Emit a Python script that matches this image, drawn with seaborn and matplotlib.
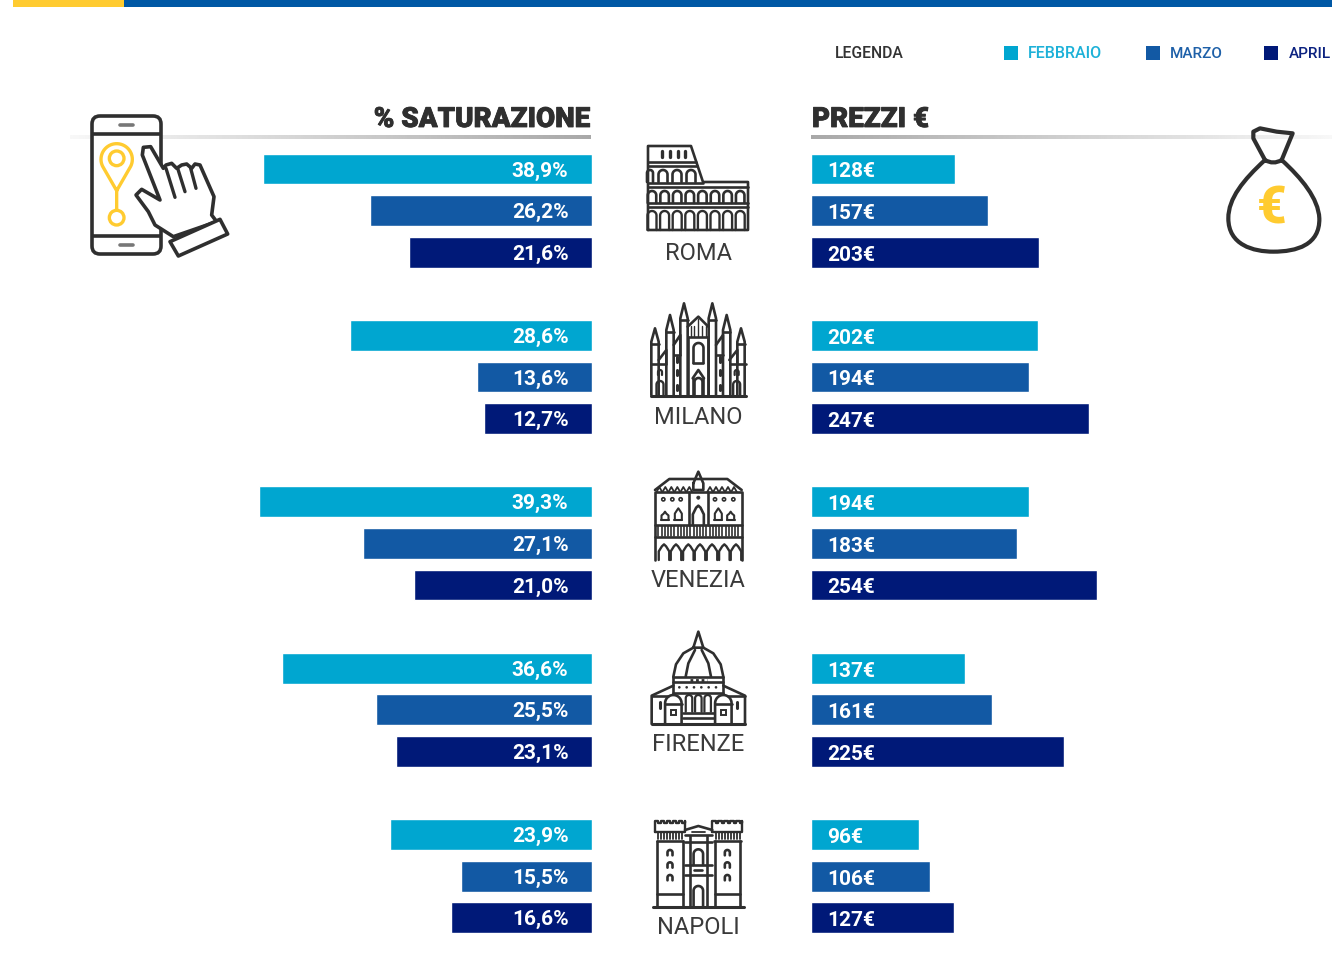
import numpy as np
import pandas as pd
import seaborn as sns
import matplotlib
matplotlib.use("Agg")
import matplotlib.pyplot as plt
import matplotlib.patheffects as pe
from matplotlib.patches import Rectangle, Circle, Polygon, FancyBboxPatch, PathPatch
from matplotlib.path import Path

cities = ["ROMA", "MILANO", "VENEZIA", "FIRENZE", "NAPOLI"]
months = ["FEBBRAIO", "MARZO", "APRIL"]
sat_feb = [38.9, 28.6, 39.3, 36.6, 23.9]
sat_mar = [26.2, 13.6, 27.1, 25.5, 15.5]
sat_apr = [21.6, 12.7, 21.0, 23.1, 16.6]
price_feb = [128, 202, 194, 137, 96]
price_mar = [157, 194, 183, 161, 106]
price_apr = [203, 247, 254, 225, 127]
month_colors = ["#00A6D0", "#1259A4", "#001978"]

sns.set_theme(style="white")
plt.rcParams["font.family"] = ["Roboto", "DejaVu Sans"]

W, H = 1332, 977
DARK = "#2F2F2F"
YEL = "#FFCB30"

rows = []
for g, c in enumerate(cities):
    for m, (s, p) in enumerate(zip((sat_feb, sat_mar, sat_apr), (price_feb, price_mar, price_apr))):
        rows.append({"city": c, "mese": months[m], "row": g * 4 + m, "sat": s[g], "price": p[g]})
df = pd.DataFrame(rows)

fig = plt.figure(figsize=(W / 100, H / 100), dpi=100, facecolor="white")

# overlay in pixel coordinates for furniture and pictograms
ov = fig.add_axes([0, 0, 1, 1], zorder=1)
ov.set_xlim(0, W)
ov.set_ylim(H, 0)
ov.axis("off")

ROW0, ROWH = 169.0, 41.6
ylim = ((H - ROW0) / ROWH, -ROW0 / ROWH)
palette = dict(zip(months, month_colors))


def panel(left_px, right_px):
    a = fig.add_axes([left_px / W, 0, (right_px - left_px) / W, 1], zorder=2)
    a.patch.set_alpha(0)
    return a


axL = panel(100, 591.5)
sns.barplot(data=df, x="sat", y="row", hue="mese", orient="y", native_scale=True, dodge=False,
            width=0.745, palette=palette, saturation=1, legend=False, ax=axL)
axL.set_xlim(491.5 / 8.45, 0)
axL.set_ylim(*ylim)
axL.axis("off")

axR = panel(810.6, 1332)
sns.barplot(data=df, x="price", y="row", hue="mese", orient="y", native_scale=True, dodge=False,
            width=0.745, palette=palette, saturation=1, legend=False, ax=axR)
axR.set_xlim(0, 521.4 / 1.127)
axR.set_ylim(*ylim)
axR.axis("off")

lab = dict(color="white", fontsize=15, fontweight="bold", va="center_baseline",
           textcoords="offset pixels", zorder=5)
for _, r in df.iterrows():
    axL.annotate(f"{r['sat']:.1f}%".replace(".", ","), xy=(0, r["row"]), xytext=(-23, 0), ha="right", **lab)
    axR.annotate(f"{r['price']}€", xy=(0, r["row"] + 0.02), xytext=(17, 0), ha="left", **lab)

# top band
ov.add_patch(Rectangle((13, 0), 111, 6.5, color=YEL, lw=0))
ov.add_patch(Rectangle((124, 0), W - 124, 6.5, color="#0058A5", lw=0))

# legend
ov.text(835, 54, "LEGENDA", color="#333333", fontsize=11.3, fontweight="medium", va="center")
for (sx, tx, col, tcol, name) in [(1004, 1028, month_colors[0], "#1DB1D8", months[0]),
                                  (1146, 1170, month_colors[1], "#1E60A8", months[1]),
                                  (1264, 1288.5, month_colors[2], "#0C2280", months[2])]:
    ov.add_patch(Rectangle((sx, 45.5), 14, 14, color=col, lw=0))
    ov.text(tx, 53.5, name, color=tcol, fontsize=11.5 if name == months[0] else 11, fontweight="medium", va="center")

# heading rules
gl = np.linspace(0.97, 0.66, 256)[None, :]
ov.imshow(gl, extent=(70, 591, 139, 135), cmap="gray", vmin=0, vmax=1, aspect="auto", zorder=0.5)
ov.imshow(gl[:, ::-1], extent=(811, 1332, 139, 135), cmap="gray", vmin=0, vmax=1, aspect="auto", zorder=0.5)
ov.set_xlim(0, W)
ov.set_ylim(H, 0)

hd = dict(color=DARK, fontsize=20, fontweight="black", va="center",
          path_effects=[pe.withStroke(linewidth=0.6, foreground=DARK)])
ov.text(590, 119.5, "% SATURAZIONE", ha="right", **hd)
ov.text(812, 119.5, "PREZZI €", ha="left", **hd)

LW = 1.9
K = dict(color=DARK, lw=LW, solid_capstyle="round", solid_joinstyle="round", zorder=3)


def line(pts, **kw):
    xs, ys = zip(*pts)
    ov.plot(xs, ys, **{**K, **kw})


def z(ox, oy, pts):
    return [(ox + a / 3, oy + b / 3) for a, b in pts]


def arch(cx, top, base, w, **kw):
    t = np.linspace(np.pi, 0, 20)
    r = w / 2
    xs = [cx - r] + list(cx + r * np.cos(t)) + [cx + r]
    ys = [base] + list(top + r - r * np.sin(t)) + [base]
    ov.plot(xs, ys, **{**K, **kw})


def pointed(cx, top, base, w, **kw):
    ys = top + (base - top) * 0.45
    line([(cx - w / 2, base), (cx - w / 2, ys), (cx - w * 0.2, top + 2), (cx, top),
          (cx + w * 0.2, top + 2), (cx + w / 2, ys), (cx + w / 2, base)], **kw)


# ---- Colosseo
line([(648, 230), (648, 146), (691, 146), (703, 182), (748, 182), (748, 230), (648, 230)])
line([(648, 162), (696, 162)]); line([(648, 166), (697, 166)])
line([(648, 183), (703, 183)]); line([(648, 187), (748, 187)])
line([(648, 203), (748, 203)]); line([(648, 207), (748, 207)])
for x in (662, 670, 678, 685):
    line([(x, 151), (x, 157)], lw=2.4)
for x in (663, 677, 691):
    arch(x, 170, 182, 9)
arch(650, 170, 182, 6)
for x in np.arange(652, 746, 12.6):
    arch(x, 191, 203, 8.5)
    arch(x, 211, 230, 9, lw=1.7)

# ---- Duomo di Milano
ox, oy = 640, 295
for cx, top, sh, base in [(45, 100, 140, 300), (90, 60, 105, 300), (132, 25, 70, 300),
                          (217, 25, 70, 300), (260, 60, 105, 300), (303, 100, 140, 300)]:
    hw = 11
    line(z(ox, oy, [(cx - hw, base), (cx - hw, sh), (cx, top), (cx + hw, sh), (cx + hw, base)]))
    line(z(ox, oy, [(cx - hw, sh + 6), (cx + hw, sh + 6)]))
line(z(ox, oy, [(33, 303), (317, 303)]), lw=2.2)
line(z(ox, oy, [(143, 95), (175, 65), (205, 95)]))
line(z(ox, oy, [(143, 125), (205, 125)]))
for x in (152, 163, 175, 187, 198):
    line(z(ox, oy, [(x, 122), (x, 92 if x != 175 else 72)]), lw=1)
line(z(ox, oy, [(143, 125), (143, 300)])); line(z(ox, oy, [(205, 125), (205, 300)]))
for a, b in [(56, 79), (268, 292)]:
    line(z(ox, oy, [(a, 195), (b, 165), (b, 205)]))
    line(z(ox, oy, [(33, 208), (79, 208)] if a == 56 else [(271, 208), (317, 208)]))
for a, b in [(101, 121), (228, 249)]:
    line(z(ox, oy, [(a, 150), (b, 120), (b, 180)]))
    line(z(ox, oy, [(a, 180), (b, 180)]))
arch(698.5, 343, 363, 10)
line(z(ox, oy, [(160, 205), (190, 205)]))
line(z(ox, oy, [(158, 250), (175, 225), (192, 250)]))
arch(698.5, 378, 395, 8)
line(z(ox, oy, [(160, 250), (160, 300)])); line(z(ox, oy, [(190, 250), (190, 300)]))
for x in (110, 240):
    for y1, y2 in [(185, 200), (225, 240), (270, 285)]:
        line(z(ox, oy, [(x, y1), (x, y2)]), lw=2.2)
for x in (60, 290):
    arch(ox + x / 3, oy + 225 / 3, oy + 240 / 3, 4, lw=1.6)
    arch(ox + x / 3, oy + 258 / 3, oy + 300 / 3, 7, lw=1.7)

# ---- Palazzo Ducale (Venezia)
ox, oy = 640, 465
line(z(ox, oy, [(45, 285), (45, 82), (305, 82), (305, 285)]))
line(z(ox, oy, [(45, 75), (88, 42), (262, 42), (305, 75)]))
line(z(ox, oy, [(160, 55), (175, 20), (190, 55), (190, 75), (160, 75), (160, 55)]))
for x in list(range(58, 150, 18)) + list(range(210, 300, 18)):
    line(z(ox, oy, [(x - 8, 80), (x, 66), (x + 8, 80)]), lw=1.3)
line(z(ox, oy, [(148, 180), (148, 82)])); line(z(ox, oy, [(205, 180), (205, 82)]))
line(z(ox, oy, [(45, 180), (305, 180)])); line(z(ox, oy, [(45, 215), (305, 215)]))
for x in np.arange(55, 300, 9.6):
    line(z(ox, oy, [(x, 184), (x, 212)]), lw=1.2)
for x in (70, 97, 122, 225, 252, 280):
    ov.add_patch(Circle((ox + x / 3, oy + 103 / 3), 1.6, fc="white", ec=DARK, lw=1.2, zorder=3))
ov.add_patch(Circle((ox + 175 / 3, oy + 98 / 3), 1.6, fc=DARK, ec=DARK, lw=0.5, zorder=3))
for x, t in [(75, 140), (115, 130), (235, 130), (272, 140)]:
    pointed(ox + x / 3, oy + t / 3, oy + 165 / 3, 7, lw=1.5)
    line(z(ox, oy, [(x - 12, 165), (x + 12, 165)]), lw=1.5)
pointed(ox + 175 / 3, oy + 122 / 3, oy + 180 / 3, 11)
for x in (72, 108, 145, 180, 216, 253, 288):
    pointed(ox + x / 3, oy + 238 / 3, oy + 285 / 3, 10.5, lw=1.7)

# ---- Duomo di Firenze
ox, oy = 640, 625
line(z(ox, oy, [(160, 68), (175, 20), (190, 68), (160, 68)]))
line(z(ox, oy, [(100, 155), (108, 118), (130, 85), (160, 68)]))
line(z(ox, oy, [(250, 155), (242, 118), (220, 85), (190, 68)]))
line(z(ox, oy, [(137, 155), (145, 115), (165, 75)]))
line(z(ox, oy, [(213, 155), (205, 115), (185, 75)]))
line(z(ox, oy, [(100, 155), (250, 155)])); line(z(ox, oy, [(100, 172), (250, 172)]))
line(z(ox, oy, [(100, 205), (250, 205)]))
line(z(ox, oy, [(100, 155), (100, 205)])); line(z(ox, oy, [(250, 155), (250, 205)]))
line(z(ox, oy, [(150, 165), (200, 165)]), lw=2, ls=(0, (1, 1)))
for x in (118, 140, 162, 184, 206, 228):
    ov.add_patch(Circle((ox + x / 3, oy + 187 / 3), 1.3, fc=DARK, lw=0, zorder=3))
line(z(ox, oy, [(35, 297), (35, 212), (100, 182)])); line(z(ox, oy, [(315, 297), (315, 212), (250, 182)]))
line(z(ox, oy, [(35, 297), (315, 297)]), lw=2.2)
line(z(ox, oy, [(35, 212), (85, 212)])); line(z(ox, oy, [(265, 212), (315, 212)]))
for x in (100, 250):
    arch(ox + x / 3, oy + 210 / 3, oy + 297 / 3, 16.5)
    line(z(ox, oy, [(x - 25, 237), (x + 25, 237)]))
    ov.add_patch(Rectangle((ox + x / 3 - 2.5, oy + 255 / 3), 5, 5, fc="white", ec=DARK, lw=1.4, zorder=3))
for x in (147, 175, 203):
    arch(ox + x / 3, oy + 210 / 3, oy + 260 / 3, 6.5, lw=1.6)
line(z(ox, oy, [(128, 265), (222, 265)])); line(z(ox, oy, [(128, 278), (222, 278)]))
for x in (60, 290):
    line(z(ox, oy, [(x, 232), (x, 250)]), lw=2.2)

# ---- Castel Nuovo (Napoli)
ox, oy = 640, 810
for a, b in [(45, 135), (217, 307)]:
    step = (b - a) / 5
    pts = [(a, 65), (a, 32)]
    for i in range(5):
        xa = a + i * step
        pts += [(xa, 32), (xa + step * 0.55, 32), (xa + step * 0.55, 40), (xa + step, 40)]
    pts += [(b, 32), (b, 65), (a, 65)]
    line(z(ox, oy, pts), lw=1.7)
    for x in np.arange(a + 10, b - 5, 9):
        line(z(ox, oy, [(x, 70), (x, 88)]), lw=1.3)
    line(z(ox, oy, [(a + 5, 92), (b - 5, 92)]))
    line(z(ox, oy, [(a + 7, 92), (a + 7, 292)])); line(z(ox, oy, [(b - 7, 92), (b - 7, 292)]))
    line(z(ox, oy, [(a + 7, 252), (b - 7, 252)]))
    cx = (a + b) / 2
    for y in (128, 165, 203):
        arch(ox + cx / 3, oy + (y - 8) / 3, oy + (y + 8) / 3, 5, lw=1.9)
line(z(ox, oy, [(38, 292), (312, 292)]), lw=2.2)
line(z(ox, oy, [(135, 60), (175, 48), (217, 60)])); line(z(ox, oy, [(135, 75), (217, 75)]))
line(z(ox, oy, [(155, 65), (195, 65)]), lw=1.3)
line(z(ox, oy, [(135, 95), (217, 95)])); line(z(ox, oy, [(135, 195), (217, 195)]))
for x in (150, 200):
    line(z(ox, oy, [(x, 78), (x, 292)]))
arch(ox + 175 / 3, oy + 118 / 3, oy + 165 / 3, 9.5)
line(z(ox, oy, [(135, 165), (217, 165)]))
line(z(ox, oy, [(163, 180), (187, 180)]))
arch(ox + 175 / 3, oy + 228 / 3, oy + 290 / 3, 9.5)

# ---- Phone + pin + hand
ox, oy = 60, 100
ov.add_patch(FancyBboxPatch((92, 116), 69, 138, boxstyle="round,pad=0,rounding_size=8", fc="white", ec=DARK, lw=2.6, zorder=2.5))
line(z(ox, oy, [(100, 102), (300, 102)]), lw=2.6); line(z(ox, oy, [(100, 408), (300, 408)]), lw=2.6)
line(z(ox, oy, [(180, 76), (218, 76)]), lw=2.6, color="#777777")
line(z(ox, oy, [(180, 435), (218, 435)]), lw=2.6, color="#777777")
t = np.linspace(-0.18 * np.pi, 1.18 * np.pi, 40)
head = [(170 + 47 * np.cos(a), 178 - 47 * np.sin(a)) for a in t]
line(z(ox, oy, [(170, 272)] + head + [(170, 272), (170, 332)]), color=YEL, lw=2.4)
for cy, r in [(175, 22), (353, 22)]:
    ov.add_patch(Circle((ox + 170 / 3, oy + cy / 3), r / 3, fc="white", ec=YEL, lw=2.4, zorder=3))
hand = [(228, 285), (245, 268), (300, 300), (247, 165), (250, 142), (272, 140), (310, 205), (318, 195),
        (335, 190), (350, 205), (365, 195), (380, 192), (395, 205), (405, 192), (420, 195), (462, 290),
        (455, 345), (470, 365), (340, 410), (285, 375), (265, 335)]
ov.add_patch(Polygon(z(ox, oy, hand), closed=True, fc="white", ec=DARK, lw=2.6, joinstyle="round", zorder=3))
for seg in ([(318, 205), (345, 292)], [(353, 205), (375, 275)], [(392, 205), (408, 265)]):
    line(z(ox, oy, seg), lw=2.4, zorder=3.1)
ov.add_patch(Polygon(z(ox, oy, [(330, 425), (480, 358), (503, 402), (355, 468)]), closed=True, fc="white",
                     ec=DARK, lw=2.6, joinstyle="round", zorder=3.2))

# ---- Money bag
ox, oy = 1210, 115
P = lambda a, b: (ox + a / 3, oy + b / 3)
verts = [P(165, 135), P(100, 195), P(55, 250), P(55, 310), P(55, 390), P(130, 410), P(190, 410),
         P(260, 410), P(330, 390), P(328, 310), P(325, 250), P(275, 190), P(215, 135),
         P(190, 150), P(165, 135)]
codes = [Path.MOVETO] + [Path.CURVE4] * 12 + [Path.CURVE3] * 2
ov.add_patch(PathPatch(Path(verts, codes), fc="white", ec=DARK, lw=3, zorder=3))
neck = [P(165, 135), P(130, 70), P(130, 50), P(150, 40), P(200, 50), P(248, 55), P(215, 135)]
line(neck, lw=3, zorder=3.1)
ov.text(ox + 185 / 3, oy + 283 / 3, "€", color=YEL, fontsize=37, fontweight="black", ha="center",
        va="center", zorder=4)

# city names
for name, y in zip(cities, (253, 417.5, 580.5, 744.5, 927.5)):
    ov.text(698.5, y, name, color="#3A3A3A", fontsize=17, fontweight="normal", ha="center", va="center", zorder=4)

fig.savefig("out.png", dpi=100)
